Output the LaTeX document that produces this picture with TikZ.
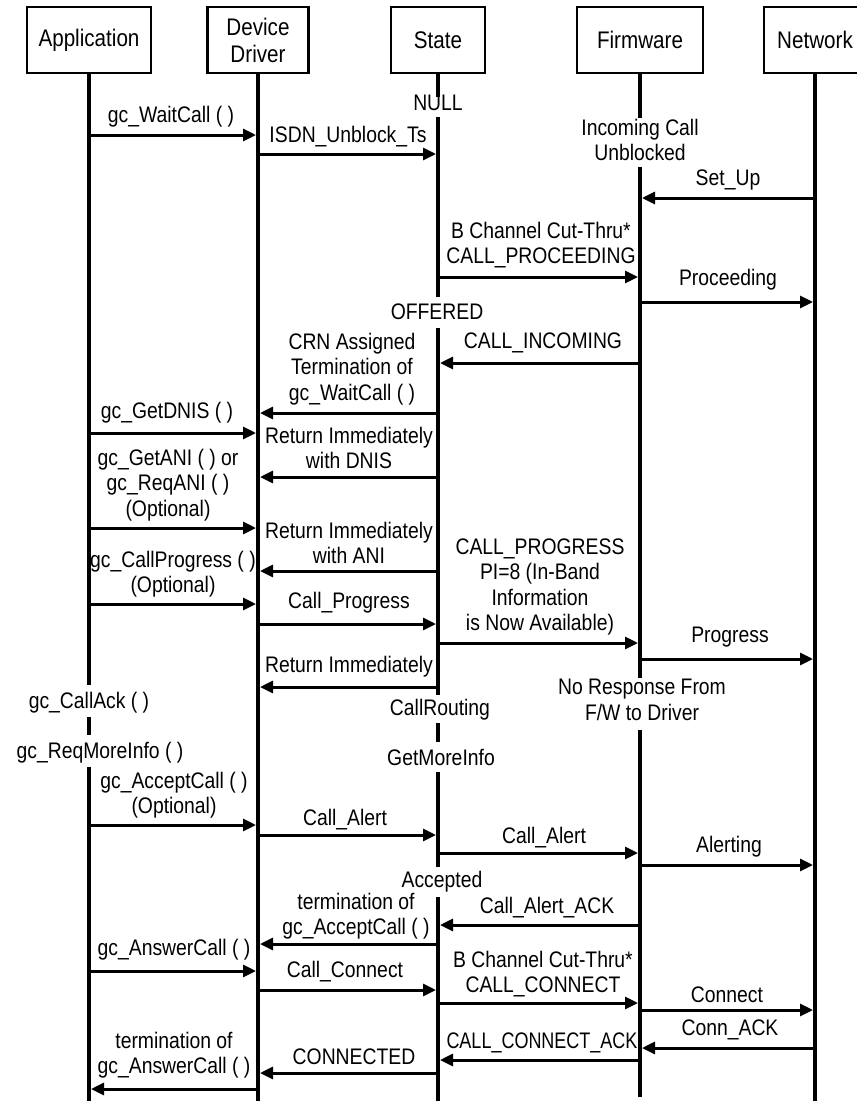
\documentclass[tikz,border=0pt]{standalone}
\usepackage{fontspec}
\setmainfont{Liberation Sans}[FakeStretch=0.86]
\usetikzlibrary{arrows.meta}
\newcommand\mymsg[3]{\draw[msg] (#1.south |- 0,#3) -- (#2.south |- 0,#3);}
\tikzset{
  box/.style={draw, line width=2.4pt, inner sep=0pt, minimum height=66pt, align=center,
    font=\fontsize{24}{27}\selectfont},
  life/.style={line width=4pt},
  msg/.style={line width=3pt, -{Triangle[length=13pt,width=12pt]}, shorten >=2pt},
  lbl/.style={inner sep=0pt, align=center}
}
\begin{document}
\begin{tikzpicture}[x=1pt,y=-1pt, font=\fontsize{22.5}{25.5}\selectfont]
\useasboundingbox (0,0) rectangle (857,1101);
\fill[white] (0,0) rectangle (857,1101);
% header boxes
\node[box, minimum width=124pt] (app) at (89,40) {Application};
\node[box, minimum width=101pt] (drv) at (258,40) {Device\\Driver};
\node[box, minimum width=94pt]  (st)  at (438,40) {State};
\node[box, minimum width=126pt] (fw)  at (640,40) {Firmware};
\node[box, minimum width=102pt] (net) at (815,40) {Network};
% lifelines
\draw[life] (app.south) -- (app.south |- 0,685);
\draw[life] (app.south |- 0,717) -- (app.south |- 0,735);
\draw[life] (app.south |- 0,767) -- (app.south |- 0,1101);
\draw[life] (drv.south) -- (drv.south |- 0,1101);
\draw[life] (st.south) -- (st.south |- 0,97);
\draw[life] (st.south |- 0,117) -- (st.south |- 0,297);
\draw[life] (st.south |- 0,328) -- (st.south |- 0,695);
\draw[life] (st.south |- 0,723) -- (st.south |- 0,742);
\draw[life] (st.south |- 0,772) -- (st.south |- 0,867);
\draw[life] (st.south |- 0,897) -- (st.south |- 0,1101);
\draw[life] (fw.south) -- (fw.south |- 0,118);
\draw[life] (fw.south |- 0,167) -- (fw.south |- 0,678);
\draw[life] (fw.south |- 0,730) -- (fw.south |- 0,1097);
\draw[life] (net.south) -- (net.south |- 0,1101);
% messages
\mymsg{app}{drv}{135}
\mymsg{drv}{st}{154}
\mymsg{net}{fw}{198}
\mymsg{st}{fw}{277}
\mymsg{fw}{net}{302}
\mymsg{fw}{st}{363}
\mymsg{st}{drv}{413}
\mymsg{app}{drv}{433}
\mymsg{st}{drv}{477}
\mymsg{app}{drv}{528}
\mymsg{st}{drv}{571}
\mymsg{app}{drv}{604}
\mymsg{drv}{st}{624}
\mymsg{st}{fw}{643}
\mymsg{fw}{net}{659}
\mymsg{st}{drv}{687}
\mymsg{app}{drv}{825}
\mymsg{drv}{st}{835}
\mymsg{st}{fw}{853}
\mymsg{fw}{net}{865}
\mymsg{fw}{st}{925}
\mymsg{st}{drv}{944}
\mymsg{app}{drv}{971}
\mymsg{drv}{st}{990}
\mymsg{st}{fw}{1003}
\mymsg{fw}{net}{1010}
\mymsg{net}{fw}{1048}
\mymsg{fw}{st}{1060}
\mymsg{st}{drv}{1073}
\mymsg{drv}{app}{1089}
% labels
\node[lbl] (l1) at (438,103) {NULL};
\node[lbl] (l2) at (171,117) {gc\_WaitCall ( )};
\node[lbl] (l3) at (348,137) {ISDN\_Unblock\_Ts};
\node[lbl] (l4) at (640,140) {Incoming Call\\Unblocked};
\node[lbl] (l5) at (728,180) {Set\_Up};
\node[lbl] (l6) at (541,245) {B Channel Cut-Thru*\\CALL\_PROCEEDING};
\node[lbl] (l7) at (728,280) {Proceeding};
\node[lbl] (l8) at (437,312) {OFFERED};
\node[lbl] (l9) at (352,369) {CRN Assigned\\Termination of\\gc\_WaitCall ( )};
\node[lbl] (l10) at (543,343) {CALL\_INCOMING};
\node[lbl] (l11) at (167,413) {gc\_GetDNIS ( )};
\node[lbl] (l12) at (349,448) {Return Immediately\\with DNIS};
\node[lbl] (l13) at (168,485) {gc\_GetANI ( ) or\\gc\_ReqANI ( )\\(Optional)};
\node[lbl] (l14) at (349,543) {Return Immediately\\with ANI};
\node[lbl] (l15) at (173,574) {gc\_CallProgress ( )\\(Optional)};
\node[lbl] (l16) at (349,603) {Call\_Progress};
\node[lbl] (l17) at (540,587) {CALL\_PROGRESS\\PI=8 (In-Band\\Information\\is Now Available)};
\node[lbl] (l18) at (730,637) {Progress};
\node[lbl] (l19) at (349,667) {Return Immediately};
\node[lbl] (l20) at (642,700) {No Response From\\F/W to Driver};
\node[lbl] (l21) at (89,703) {gc\_CallAck ( )};
\node[lbl] (l22) at (440,710) {CallRouting};
\node[lbl] (l23) at (100,753) {gc\_ReqMoreInfo ( )};
\node[lbl] (l24) at (441,757) {GetMoreInfo};
\node[lbl] (l25) at (174,795) {gc\_AcceptCall ( )\\(Optional)};
\node[lbl] (l26) at (345,820) {Call\_Alert};
\node[lbl] (l27) at (544,838) {Call\_Alert};
\node[lbl] (l28) at (729,847) {Alerting};
\node[lbl] (l29) at (442,882) {Accepted};
\node[lbl] (l30) at (356,916) {termination of\\gc\_AcceptCall ( )};
\node[lbl] (l31) at (547,908) {Call\_Alert\_ACK};
\node[lbl] (l32) at (174,950) {gc\_AnswerCall ( )};
\node[lbl] (l33) at (345,972) {Call\_Connect};
\node[lbl] (l34) at (543,974) {B Channel Cut-Thru*\\CALL\_CONNECT};
\node[lbl] (l35) at (727,995) {Connect};
\node[lbl] (l36) at (730,1030) {Conn\_ACK};
\node[lbl] (l37) at (542,1043) {\scalebox{0.93}[1]{CALL\_CONNECT\_ACK}};
\node[lbl] (l38) at (174,1055) {termination of\\gc\_AnswerCall ( )};
\node[lbl] (l39) at (354,1057) {CONNECTED};
\end{tikzpicture}
\end{document}
